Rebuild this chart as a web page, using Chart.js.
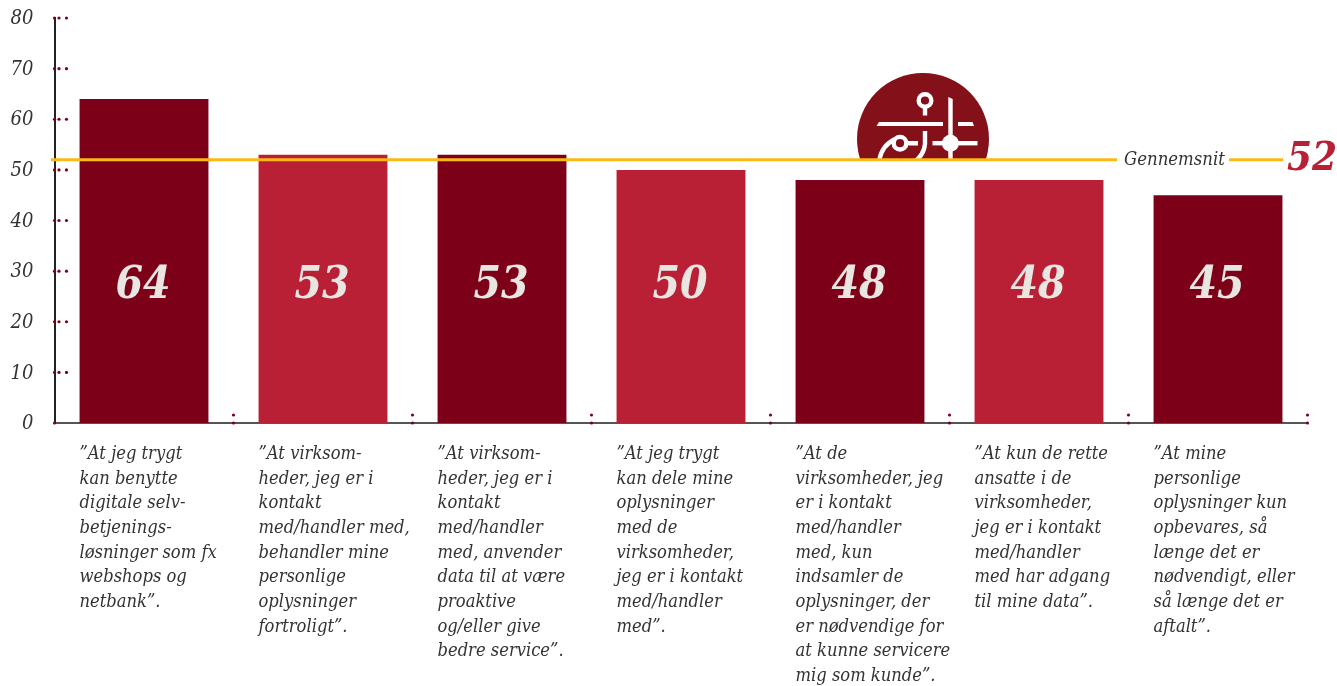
<!DOCTYPE html>
<html lang="da">
<head>
<meta charset="utf-8">
<title>Gennemsnit</title>
<script src="https://cdn.jsdelivr.net/npm/chart.js@4/dist/chart.umd.min.js"></script>
<style>
  html, body { margin: 0; padding: 0; background: #fff; overflow: hidden; }
  canvas { display: block; }
</style>
</head>
<body>
<canvas id="chart" width="1337" height="686"></canvas>
<script>
const categories = [
  ['”At jeg trygt', 'kan benytte', 'digitale selv-', 'betjenings-', 'løsninger som fx', 'webshops og', 'netbank”.'],
  ['”At virksom-', 'heder, jeg er i', 'kontakt', 'med/handler med,', 'behandler mine', 'personlige', 'oplysninger', 'fortroligt”.'],
  ['”At virksom-', 'heder, jeg er i', 'kontakt', 'med/handler', 'med, anvender', 'data til at være', 'proaktive', 'og/eller give', 'bedre service”.'],
  ['”At jeg trygt', 'kan dele mine', 'oplysninger', 'med de', 'virksomheder,', 'jeg er i kontakt', 'med/handler', 'med”.'],
  ['”At de', 'virksomheder, jeg', 'er i kontakt', 'med/handler', 'med, kun', 'indsamler de', 'oplysninger, der', 'er nødvendige for', 'at kunne servicere', 'mig som kunde”.'],
  ['”At kun de rette', 'ansatte i de', 'virksomheder,', 'jeg er i kontakt', 'med/handler', 'med har adgang', 'til mine data”.'],
  ['”At mine', 'personlige', 'oplysninger kun', 'opbevares, så', 'længe det er', 'nødvendigt, eller', 'så længe det er', 'aftalt”.']
];
const values = [64, 53, 53, 50, 48, 48, 45];
const average = 52;
const averageLabel = 'Gennemsnit';

const DARK = '#7c0018';
const LIGHT = '#b92035';
const YELLOW = '#fbb916';
const TEXT = '#333333';
const SERIF = '"DejaVu Serif Condensed", "DejaVu Serif", serif';
const LABEL_VALUE = 27; // height on the y axis where the bar numbers sit

function dot(ctx, x, y) {
  ctx.beginPath();
  ctx.arc(x, y, 1.6, 0, Math.PI * 2);
  ctx.fill();
}

// three dots along each y tick, two at each category boundary
const tickDots = {
  id: 'tickDots',
  afterDatasetsDraw(chart) {
    const { ctx, scales: { x, y } } = chart;
    ctx.save();
    ctx.fillStyle = DARK;
    y.ticks.forEach((t) => {
      const py = y.getPixelForValue(t.value);
      if (t.value > 0) {
        [0, 4.5, 12].forEach((dx) => dot(ctx, x.left + dx, py));
      } else {
        dot(ctx, x.left, py);
      }
    });
    const step = x.width / categories.length;
    categories.forEach((c, i) => {
      const px = x.getPixelForValue(i) + step / 2;
      dot(ctx, px, y.bottom);
      dot(ctx, px, y.bottom - 8);
    });
    ctx.restore();
  }
};

// round emblem standing on the average line
const emblem = {
  id: 'emblem',
  beforeDatasetsDraw(chart) {
    const { ctx, scales: { y } } = chart;
    const cut = y.getPixelForValue(average);
    ctx.save();
    ctx.beginPath();
    ctx.rect(850, 60, 150, cut - 60);
    ctx.clip();
    ctx.fillStyle = '#84111a';
    ctx.beginPath();
    ctx.arc(923, 139, 66, 0, Math.PI * 2);
    ctx.fill();

    ctx.fillStyle = '#fff';
    ctx.beginPath();
    ctx.moveTo(879, 122);
    ctx.lineTo(943, 122);
    ctx.lineTo(943, 126);
    ctx.lineTo(876.5, 126);
    ctx.closePath();
    ctx.moveTo(958, 122);
    ctx.lineTo(972.5, 122);
    ctx.lineTo(974, 126);
    ctx.lineTo(958, 126);
    ctx.closePath();
    ctx.moveTo(948.3, 97);
    ctx.lineTo(952.7, 99);
    ctx.lineTo(952.7, 165);
    ctx.lineTo(948.3, 165);
    ctx.closePath();
    ctx.fill();
    ctx.fillRect(932.5, 141, 45, 4.4);
    ctx.beginPath();
    ctx.arc(950.4, 143.2, 8.5, 0, Math.PI * 2);
    ctx.fill();

    ctx.strokeStyle = '#fff';
    ctx.lineWidth = 4.4;
    ctx.beginPath();
    ctx.arc(925, 100.5, 6.3, 0, Math.PI * 2);
    ctx.moveTo(925, 107);
    ctx.lineTo(925, 115.5);
    ctx.moveTo(906.3, 143.2);
    ctx.arc(900, 143.2, 6.3, 0, Math.PI * 2);
    ctx.moveTo(906, 143.2);
    ctx.lineTo(918, 143.2);
    ctx.moveTo(895, 139);
    ctx.quadraticCurveTo(881, 146, 879, 162);
    ctx.moveTo(925, 131);
    ctx.lineTo(925, 144);
    ctx.quadraticCurveTo(924, 155, 914, 162);
    ctx.stroke();
    ctx.restore();
  }
};

// average line, interrupted by its caption, with the number at the end
const averageLine = {
  id: 'averageLine',
  afterDatasetsDraw(chart) {
    const { ctx, scales: { y } } = chart;
    const py = y.getPixelForValue(average);
    ctx.save();
    ctx.strokeStyle = YELLOW;
    ctx.lineWidth = 3;
    ctx.beginPath();
    ctx.moveTo(51, py);
    ctx.lineTo(1117, py);
    ctx.moveTo(1229, py);
    ctx.lineTo(1283, py);
    ctx.stroke();

    ctx.textBaseline = 'middle';
    ctx.textAlign = 'left';
    ctx.fillStyle = TEXT;
    ctx.font = 'italic 18.4px ' + SERIF;
    ctx.fillText(averageLabel, 1124, py);
    ctx.fillStyle = LIGHT;
    ctx.font = 'italic bold 40px ' + SERIF;
    ctx.fillText(String(average), 1287, py);
    ctx.restore();
  }
};

// value printed inside every bar at one common height
const barNumbers = {
  id: 'barNumbers',
  afterDatasetsDraw(chart) {
    const { ctx, scales: { y } } = chart;
    ctx.save();
    ctx.fillStyle = '#e9e5e1';
    ctx.font = 'italic bold 44px ' + SERIF;
    ctx.textAlign = 'center';
    ctx.textBaseline = 'middle';
    chart.getDatasetMeta(0).data.forEach((bar, i) => {
      ctx.fillText(String(values[i]), bar.x - 1, y.getPixelForValue(LABEL_VALUE));
    });
    ctx.restore();
  }
};

new Chart(document.getElementById('chart'), {
  type: 'bar',
  data: {
    labels: categories,
    datasets: [{
      data: values,
      backgroundColor: values.map((v, i) => (i % 2 === 0 ? DARK : LIGHT)),
      borderWidth: 0,
      barPercentage: 0.72,
      categoryPercentage: 1
    }]
  },
  options: {
    responsive: false,
    animation: false,
    layout: { padding: { top: 18, right: 29.5, left: 0, bottom: 0 } },
    plugins: { legend: { display: false }, tooltip: { enabled: false } },
    scales: {
      x: {
        grid: { display: false, drawTicks: false },
        border: { display: true, color: '#555555', width: 2 },
        afterFit(scale) {
          scale.height = 263;
          scale.paddingLeft = 0;
          scale.paddingRight = 0;
        },
        ticks: {
          autoSkip: false,
          maxRotation: 0,
          minRotation: 0,
          align: 'start',
          labelOffset: -64.5,
          padding: 19,
          color: TEXT,
          font: { family: SERIF, size: 18.2, style: 'italic', lineHeight: 1.354 }
        }
      },
      y: {
        min: 0,
        max: 80,
        grid: { display: false, drawTicks: false },
        border: { display: true, color: '#222222', width: 2 },
        afterFit(scale) {
          scale.width = 54.5;
          scale.paddingTop = 0;
          scale.paddingBottom = 0;
        },
        ticks: {
          stepSize: 10,
          padding: 21,
          labelOffset: 1,
          color: TEXT,
          font: { family: SERIF, size: 20, style: 'italic' }
        }
      }
    }
  },
  plugins: [emblem, tickDots, barNumbers, averageLine]
});
</script>
</body>
</html>
